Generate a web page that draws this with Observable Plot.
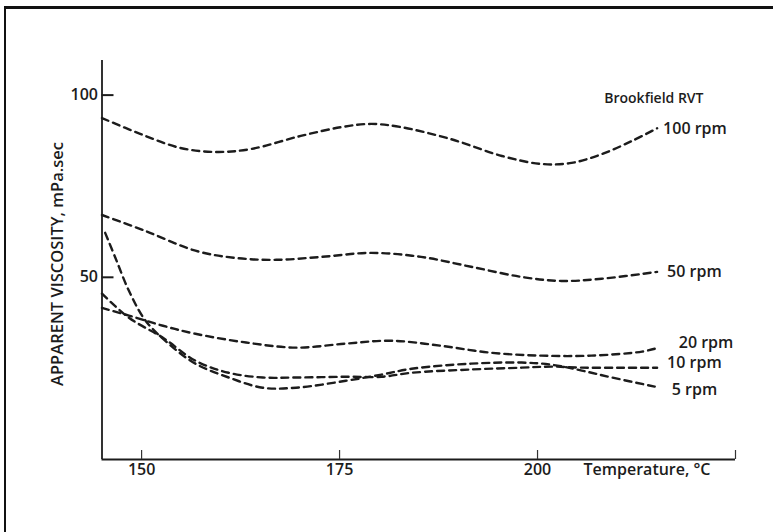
<!DOCTYPE html>
<html><head><meta charset="utf-8">
<script src="https://cdn.jsdelivr.net/npm/d3@7"></script>
<script src="https://cdn.jsdelivr.net/npm/@observablehq/plot@0.6"></script>
<style>
html,body{margin:0;padding:0;background:#fff;}
#frame{position:absolute;left:0;top:0;width:773px;height:532px;overflow:hidden;background:#fff;}
#chart{position:absolute;left:0;top:0;}
#border{position:absolute;left:4px;top:6px;width:800px;height:600px;border-left:2px solid #111;border-top:3px solid #111;pointer-events:none;}
</style></head>
<body><div id="frame"><div id="chart"></div><div id="border"></div></div>
<script>
// Data
const temps100 = [145, 149.9, 154.9, 159.4, 163.8, 170.1, 175.2, 179.0, 182.8, 189.1, 195.5, 200.5, 204.3, 208.1, 211.9, 215.1];
const visc100  = [93.7, 89.3, 85.5, 84.4, 85.2, 88.8, 91.2, 92.1, 91.2, 87.9, 83.3, 81.1, 81.4, 83.8, 87.4, 90.9];
const temps50  = [145, 150.5, 156.8, 161.9, 167.0, 172.7, 179.0, 185.3, 191.6, 198.0, 203.0, 208.1, 215.1];
const visc50   = [67.1, 62.7, 57.3, 55.3, 54.8, 55.6, 56.7, 55.6, 52.9, 50.1, 49.0, 49.6, 51.5];
const temps20  = [145, 148.4, 152.7, 156.8, 163.2, 169.5, 175.8, 181.5, 187.8, 194.1, 200.5, 206.8, 213.2, 214.8];
const visc20   = [41.6, 39.5, 36.7, 34.5, 32.1, 30.7, 31.8, 32.6, 31.2, 29.3, 28.5, 28.5, 29.6, 30.4];
const temps10  = [145, 148.4, 152.7, 156.8, 161.0, 165.3, 169.5, 175.8, 180.3, 184.1, 191.6, 198.0, 201.8, 205.6, 210.6, 215.1];
const visc10   = [45.5, 38.9, 33.4, 27.1, 23.8, 22.5, 22.5, 22.7, 22.7, 23.8, 24.7, 25.2, 25.5, 25.2, 25.2, 25.2];
const temps5   = [145.4, 146.7, 148.4, 150.5, 153.4, 156.8, 161.0, 165.3, 169.5, 175.8, 180.3, 184.1, 191.6, 198.0, 201.8, 205.6, 209.4, 214.8];
const visc5    = [62.2, 55.3, 46.3, 38.1, 31.8, 26.3, 22.5, 19.7, 19.7, 21.6, 23.3, 24.9, 26.3, 26.6, 26.0, 24.4, 22.5, 20.0];
const seriesNames = ["100 rpm", "50 rpm", "20 rpm", "10 rpm", "5 rpm"];
const xTickMarks = [150, 175, 200, 225];
const xTickLabels = [150, 175, 200];
const yTicks = [50, 100];
const xDomain = [145, 225];
const yDomain = [0, 109.5];
const xTitle = "Temperature, °C";
const yTitle = "APPARENT VISCOSITY, mPa.sec";
const noteText = "Brookfield RVT";

const tempsAll = [temps100, temps50, temps20, temps10, temps5];
const viscAll = [visc100, visc50, visc20, visc10, visc5];
const rows = seriesNames.flatMap((name, k) => tempsAll[k].map((t, i) => ({series: name, t, v: viscAll[k][i]})));
const ends = seriesNames.map((name, k) => ({series: name, t: tempsAll[k][tempsAll[k].length - 1], v: viscAll[k][viscAll[k].length - 1]}));
const labelOffsets = {"100 rpm": [6, 1], "50 rpm": [10, 0], "20 rpm": [24, -6], "10 rpm": [10, -5], "5 rpm": [17, 3]};

const ink = "#1c1c1c";
const plot = Plot.plot({
  width: 773, height: 532,
  marginLeft: 101.5, marginRight: 38, marginTop: 60, marginBottom: 73,
  x: {domain: xDomain},
  y: {domain: yDomain},
  style: {fontFamily: "'Open Sans', sans-serif", fontSize: "16px", color: ink, background: "transparent", overflow: "visible"},
  marks: [
    Plot.ruleX([xDomain[0]], {stroke: ink, strokeWidth: 1.8}),
    Plot.ruleY([yDomain[0]], {stroke: ink, strokeWidth: 2.2}),
    Plot.axisX({ticks: xTickMarks, tickSize: -9, tickFormat: () => "", stroke: "#333", strokeWidth: 1.2, label: null}),
    Plot.axisX({ticks: xTickLabels, tickSize: 0, tickPadding: 4, label: null, fontSize: 16, fontWeight: 600, fill: ink}),
    Plot.axisY({ticks: yTicks, tickSize: -12, tickFormat: () => "", stroke: ink, strokeWidth: 2, label: null}),
    Plot.axisY({ticks: yTicks, tickSize: 0, tickPadding: 4, label: null, fontSize: 16, fontWeight: 600, fill: ink}),
    Plot.line(rows, {x: "t", y: "v", z: "series", curve: "catmull-rom", stroke: ink, strokeWidth: 2.4, strokeDasharray: "7,5"}),
    ...ends.map(e => Plot.text([e], {x: "t", y: "v", text: "series", textAnchor: "start", dx: labelOffsets[e.series][0], dy: labelOffsets[e.series][1], fontSize: 16, fontWeight: 600, fill: ink})),
    Plot.text([xTitle], {frameAnchor: "bottom-right", textAnchor: "end", lineAnchor: "top", dx: -25, dy: 4, fontSize: 16, fontWeight: 600, fill: ink}),
    Plot.text([noteText], {frameAnchor: "top-right", textAnchor: "end", lineAnchor: "bottom", dx: -32, dy: 42, fontSize: 14, fontWeight: 600, fill: ink}),
    Plot.text([yTitle], {frameAnchor: "left", textAnchor: "middle", rotate: -90, dx: -44.5, dy: 4, fontSize: 16.5, fontWeight: 600, fill: ink})
  ]
});
document.getElementById("chart").appendChild(plot);
</script>
</body></html>
